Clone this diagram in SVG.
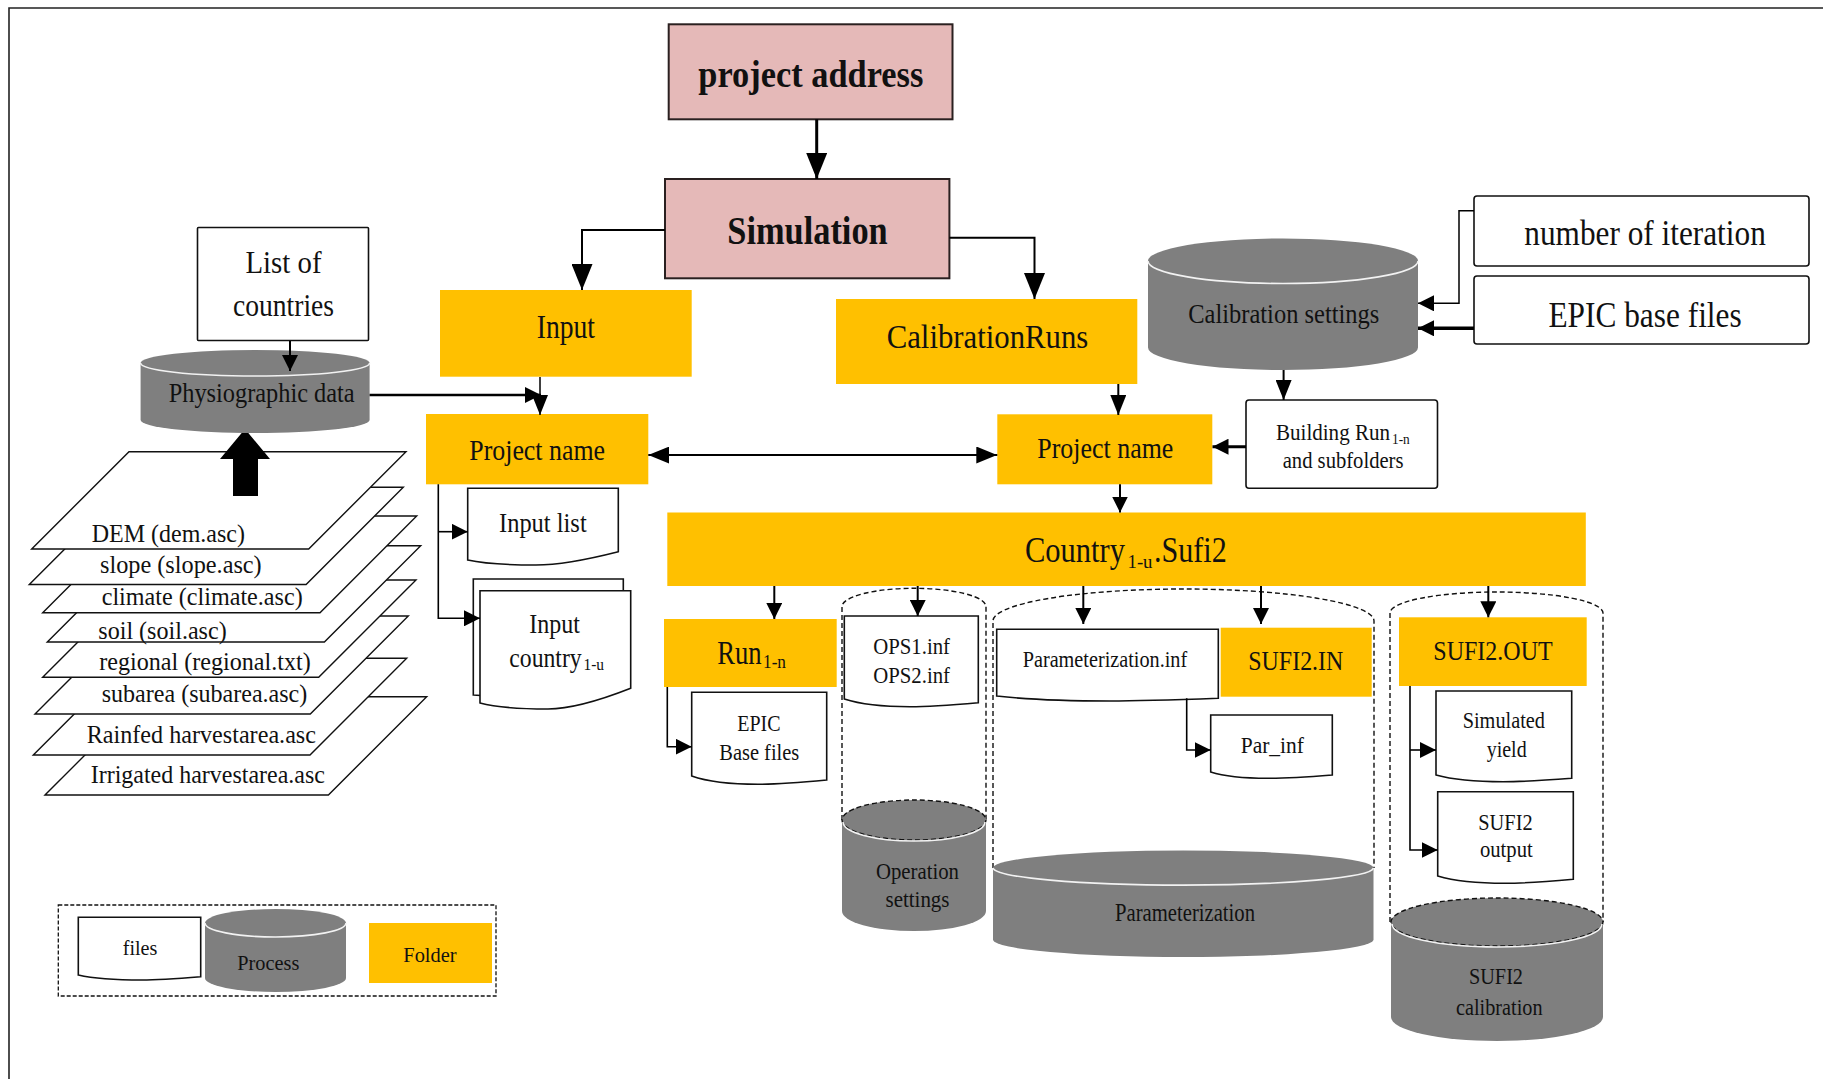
<svg xmlns="http://www.w3.org/2000/svg" width="1823" height="1079" viewBox="0 0 1823 1079">
<defs>
<style>
text{font-family:"Liberation Serif","Times New Roman",serif;fill:#111}
.b{font-weight:bold}
.org{fill:#ffc000}
.pink{fill:#e5b9b8;stroke:#2a2020;stroke-width:2}
.box{fill:#fff;stroke:#111;stroke-width:1.6}
.doc{fill:#fff;stroke:#111;stroke-width:1.6}
.gray{fill:#7f7f7f}
.hl{fill:none;stroke:#f2f2f2;stroke-width:1.6}
.dash{fill:none;stroke:#111;stroke-width:1.4;stroke-dasharray:5 3}
.layer{fill:#fff;stroke:#111;stroke-width:1.4}
</style>
<marker id="ab" markerUnits="userSpaceOnUse" markerWidth="26" markerHeight="21" refX="26" refY="10.5" orient="auto"><path d="M0,0 L26,10.5 L0,21 z" fill="#000"/></marker>
<marker id="am" markerUnits="userSpaceOnUse" markerWidth="20" markerHeight="16" refX="20" refY="8" orient="auto"><path d="M0,0 L20,8 L0,16 z" fill="#000"/></marker>
<marker id="amd" markerUnits="userSpaceOnUse" markerWidth="21" markerHeight="17" refX="21" refY="8.5" orient="auto-start-reverse"><path d="M0,0 L21,8.5 L0,17 z" fill="#000"/></marker>
<marker id="as" markerUnits="userSpaceOnUse" markerWidth="16" markerHeight="16" refX="16" refY="8" orient="auto"><path d="M0,0 L16,8 L0,16 z" fill="#000"/></marker>
</defs>
<rect width="1823" height="1079" fill="#fff"/>
<path d="M9,1079 V8 H1823" fill="none" stroke="#222" stroke-width="1.6"/>

<g id="layers">
<polygon class="layer" points="45,795 143.3,696.7 426.7,696.7 328.4,795"/>
<polygon class="layer" points="33.3,755 130,658.3 406.7,658.3 310,755"/>
<polygon class="layer" points="35,714 133,616 408.3,616 310.3,714"/>
<polygon class="layer" points="42.7,677.3 140,580 416,580 318.7,677.3"/>
<polygon class="layer" points="47.3,642 143.6,545.7 420.7,545.7 324.4,642"/>
<polygon class="layer" points="42.7,612.7 139.4,516 416.7,516 320,612.7"/>
<polygon class="layer" points="29.3,584.5 126.5,487.3 403.3,487.3 306.1,584.5"/>
<polygon class="layer" points="31.7,549 129,451.7 406,451.7 308.7,549"/>
<text x="91.7" y="541.5" font-size="26" textLength="153.3" lengthAdjust="spacingAndGlyphs">DEM (dem.asc)</text>
<text x="100" y="573.3" font-size="26" textLength="161.7" lengthAdjust="spacingAndGlyphs">slope (slope.asc)</text>
<text x="101.7" y="605" font-size="26" textLength="201" lengthAdjust="spacingAndGlyphs">climate (climate.asc)</text>
<text x="98.3" y="639.3" font-size="26" textLength="128.4" lengthAdjust="spacingAndGlyphs">soil (soil.asc)</text>
<text x="99.3" y="670" font-size="26" textLength="211.4" lengthAdjust="spacingAndGlyphs">regional (regional.txt)</text>
<text x="101.7" y="701.7" font-size="26" textLength="205.6" lengthAdjust="spacingAndGlyphs">subarea (subarea.asc)</text>
<text x="86.7" y="743.3" font-size="26" textLength="229.3" lengthAdjust="spacingAndGlyphs">Rainfed harvestarea.asc</text>
<text x="90.7" y="783.3" font-size="26" textLength="234.3" lengthAdjust="spacingAndGlyphs">Irrigated harvestarea.asc</text>
<polygon points="245,429 270,459 258,459 258,496 233,496 233,459 220,459" fill="#000"/>
</g>

<g id="list-countries">
<rect class="box" x="197.5" y="227.5" width="171" height="113" rx="1"/>
<text x="245.5" y="273" font-size="31" textLength="76" lengthAdjust="spacingAndGlyphs">List of</text>
<text x="233" y="316.4" font-size="31" textLength="101" lengthAdjust="spacingAndGlyphs">countries</text>
</g>

<g id="physiographic">
<path class="gray" d="M140.6,363 V420 A114.5,13 0 0 0 369.6,420 V363 Z"/>
<ellipse class="gray" cx="255.1" cy="363" rx="114.5" ry="13"/>
<path class="hl" d="M140.6,363 A114.5,13 0 0 0 369.6,363"/>
<text x="168.7" y="402" font-size="27" textLength="186" lengthAdjust="spacingAndGlyphs">Physiographic data</text>
</g>

<g id="project-address">
<rect class="pink" x="668.7" y="24.3" width="283.8" height="95"/>
<text class="b" x="698.3" y="86.7" font-size="37" textLength="225" lengthAdjust="spacingAndGlyphs">project address</text>
</g>

<g id="simulation">
<rect class="pink" x="665" y="179" width="284.4" height="99.3"/>
<text class="b" x="727.3" y="244.3" font-size="41" textLength="160.4" lengthAdjust="spacingAndGlyphs">Simulation</text>
</g>

<g id="input">
<rect class="org" x="440" y="290" width="251.7" height="86.7"/>
<text x="536.7" y="338.3" font-size="33" textLength="58.3" lengthAdjust="spacingAndGlyphs">Input</text>
</g>

<g id="calibration-runs">
<rect class="org" x="836" y="299" width="301.3" height="85"/>
<text x="886.7" y="348.3" font-size="33" textLength="201.6" lengthAdjust="spacingAndGlyphs">CalibrationRuns</text>
</g>

<g id="calibration-settings">
<path class="gray" d="M1148,261 V347.5 A135,22.5 0 0 0 1418,347.5 V261 Z"/>
<ellipse class="gray" cx="1283" cy="261" rx="135" ry="22.5"/>
<path class="hl" d="M1148,261 A135,22.5 0 0 0 1418,261"/>
<text x="1188.3" y="323.3" font-size="27" textLength="191" lengthAdjust="spacingAndGlyphs">Calibration settings</text>
</g>

<g id="number-iteration">
<rect class="box" x="1474" y="196" width="335" height="70" rx="3"/>
<text x="1524.3" y="245" font-size="35" textLength="241.5" lengthAdjust="spacingAndGlyphs">number of iteration</text>
</g>

<g id="epic-base-files">
<rect class="box" x="1474" y="276" width="335" height="68" rx="3"/>
<text x="1548.4" y="326.7" font-size="36" textLength="193.3" lengthAdjust="spacingAndGlyphs">EPIC base files</text>
</g>

<g id="building-runs">
<rect class="box" x="1246" y="400" width="191.5" height="88.3" rx="3"/>
<text x="1276" y="440" font-size="24"><tspan textLength="114" lengthAdjust="spacingAndGlyphs">Building Run</tspan><tspan x="1392" y="443.5" font-size="14" textLength="17.8" lengthAdjust="spacingAndGlyphs">1-n</tspan></text>
<text x="1282.7" y="468.3" font-size="24" textLength="120.8" lengthAdjust="spacingAndGlyphs">and subfolders</text>
</g>

<g id="project-name-left">
<rect class="org" x="426" y="414" width="222.3" height="70.3"/>
<text x="469.3" y="460" font-size="30" textLength="135.7" lengthAdjust="spacingAndGlyphs">Project name</text>
</g>

<g id="project-name-right">
<rect class="org" x="997.3" y="414.3" width="215" height="70"/>
<text x="1037.3" y="458.3" font-size="30" textLength="136" lengthAdjust="spacingAndGlyphs">Project name</text>
</g>

<g id="input-list">
<path class="doc" d="M467.7,488.3 H618.3 V551.7 Q566,565 536,565 Q490,565 467.7,560 Z"/>
<text x="499" y="531.7" font-size="28" textLength="87.7" lengthAdjust="spacingAndGlyphs">Input list</text>
</g>

<g id="input-country">
<path class="doc" d="M473.3,579 H623.3 V683 Q571,697 541,697 Q495,697 473.3,695 Z"/>
<path class="doc" d="M480,590.7 H630.7 V688.3 Q578,709 548,709 Q502,709 480,703 Z"/>
<text x="529.3" y="633.3" font-size="28" textLength="50.7" lengthAdjust="spacingAndGlyphs">Input</text>
<text x="509.3" y="666.7" font-size="28"><tspan textLength="72.4" lengthAdjust="spacingAndGlyphs">country</tspan><tspan x="583.5" y="670" font-size="16" textLength="20.6" lengthAdjust="spacingAndGlyphs">1-u</tspan></text>
</g>

<g id="country-sufi2">
<rect class="org" x="667.3" y="512.5" width="918.5" height="73.5"/>
<text x="1025" y="561.7" font-size="36"><tspan textLength="100" lengthAdjust="spacingAndGlyphs">Country</tspan><tspan x="1127.5" y="568" font-size="19" textLength="25" lengthAdjust="spacingAndGlyphs">1-u</tspan><tspan x="1154" y="561.7" textLength="72.7" lengthAdjust="spacingAndGlyphs">.Sufi2</tspan></text>
</g>

<g id="run">
<rect class="org" x="664" y="619" width="172.7" height="68"/>
<text x="717.3" y="664" font-size="34"><tspan textLength="44.4" lengthAdjust="spacingAndGlyphs">Run</tspan><tspan x="763" y="668.3" font-size="19" textLength="23" lengthAdjust="spacingAndGlyphs">1-n</tspan></text>
</g>

<g id="epic-base-doc">
<path class="doc" d="M691.7,692.3 H826.7 V780 Q780,784.3 758,784.3 Q715,784.3 691.7,776 Z"/>
<text x="737.3" y="730.7" font-size="24" textLength="43.3" lengthAdjust="spacingAndGlyphs">EPIC</text>
<text x="719.3" y="760" font-size="24" textLength="80" lengthAdjust="spacingAndGlyphs">Base files</text>
</g>

<g id="operation-settings">
<path class="dash" d="M842,820 V606.7 A72,18.4 0 0 1 986,606.7 V820"/>
<path class="gray" d="M842,820 V911 A72,20 0 0 0 986,911 V820 Z"/>
<ellipse cx="914" cy="820" rx="72" ry="20" fill="#7f7f7f" stroke="#111" stroke-width="1.4" stroke-dasharray="5 3"/>
<path class="hl" d="M843,822 A71,19 0 0 0 985,822"/>
<text x="876" y="879" font-size="24" textLength="83" lengthAdjust="spacingAndGlyphs">Operation</text>
<text x="885.5" y="907" font-size="24" textLength="64" lengthAdjust="spacingAndGlyphs">settings</text>
</g>

<g id="ops-inf">
<path class="doc" d="M844.3,616 H978.3 V702.7 Q932,706.7 910,706.7 Q868,706.7 844.3,699 Z"/>
<text x="873.3" y="654" font-size="24" textLength="76.7" lengthAdjust="spacingAndGlyphs">OPS1.inf</text>
<text x="873.3" y="682.7" font-size="24" textLength="76.7" lengthAdjust="spacingAndGlyphs">OPS2.inf</text>
</g>

<g id="parameterization">
<path class="dash" d="M993,868 V621 A190.5,32 0 0 1 1374,621 V868"/>
<path class="gray" d="M993,868 V940 A190.3,17.5 0 0 0 1373.5,940 V868 Z"/>
<ellipse class="gray" cx="1183.2" cy="868" rx="190.3" ry="17.5"/>
<path class="hl" d="M993,868 A190.3,17.5 0 0 0 1373.5,868"/>
<text x="1115" y="921" font-size="25" textLength="140" lengthAdjust="spacingAndGlyphs">Parameterization</text>
</g>

<g id="parameterization-inf">
<path class="doc" d="M996.7,629.3 H1218.3 V698.3 Q1143,701 1110,701 Q1040,701 996.7,696 Z"/>
<text x="1022.7" y="666.7" font-size="24" textLength="164.5" lengthAdjust="spacingAndGlyphs">Parameterization.inf</text>
</g>

<g id="sufi2-in">
<rect class="org" x="1220.7" y="627.7" width="151" height="69"/>
<text x="1248.3" y="670" font-size="28" textLength="95" lengthAdjust="spacingAndGlyphs">SUFI2.IN</text>
</g>

<g id="par-inf">
<path class="doc" d="M1210.7,715 H1332.3 V775 Q1290,778.3 1268,778.3 Q1230,778.3 1210.7,772 Z"/>
<text x="1240.7" y="753.3" font-size="24" textLength="63.3" lengthAdjust="spacingAndGlyphs">Par_inf</text>
</g>

<g id="sufi2-calibration">
<path class="dash" d="M1390,922 V613 A106.5,21 0 0 1 1603,613 V922"/>
<path class="gray" d="M1391,922 V1017 A106,24 0 0 0 1603,1017 V922 Z"/>
<ellipse cx="1497" cy="922" rx="106" ry="24" fill="#7f7f7f" stroke="#111" stroke-width="1.4" stroke-dasharray="5 3"/>
<path class="hl" d="M1392,924 A105,23 0 0 0 1602,924"/>
<text x="1469" y="984" font-size="24" textLength="54" lengthAdjust="spacingAndGlyphs">SUFI2</text>
<text x="1456" y="1015" font-size="24" textLength="86.5" lengthAdjust="spacingAndGlyphs">calibration</text>
</g>

<g id="sufi2-out">
<rect class="org" x="1399" y="617.3" width="187.7" height="68.7"/>
<text x="1433.3" y="660" font-size="28" textLength="119.4" lengthAdjust="spacingAndGlyphs">SUFI2.OUT</text>
</g>

<g id="simulated-yield">
<path class="doc" d="M1436,691 H1571.7 V778.3 Q1525,781.7 1503,781.7 Q1460,781.7 1436,775 Z"/>
<text x="1462.7" y="728.3" font-size="24" textLength="82.3" lengthAdjust="spacingAndGlyphs">Simulated</text>
<text x="1486.7" y="756.7" font-size="24" textLength="40" lengthAdjust="spacingAndGlyphs">yield</text>
</g>

<g id="sufi2-output">
<path class="doc" d="M1437.7,791.7 H1573.3 V879.3 Q1527,883.3 1505,883.3 Q1462,883.3 1437.7,876 Z"/>
<text x="1478.3" y="830" font-size="24" textLength="54.3" lengthAdjust="spacingAndGlyphs">SUFI2</text>
<text x="1480" y="856.7" font-size="24" textLength="52.7" lengthAdjust="spacingAndGlyphs">output</text>
</g>

<g id="legend">
<rect x="58.3" y="905" width="437.7" height="91" fill="none" stroke="#111" stroke-width="1.3" stroke-dasharray="4 2"/>
<path class="doc" d="M78.3,917.3 H200.7 V976.7 Q160,980 142,980 Q100,980 78.3,975 Z"/>
<text x="122.7" y="955" font-size="22" textLength="34.7" lengthAdjust="spacingAndGlyphs">files</text>
<path class="gray" d="M205,923 V978 A70.5,14 0 0 0 346,978 V923 Z"/>
<ellipse class="gray" cx="275.5" cy="923" rx="70.5" ry="14"/>
<path class="hl" d="M205,923 A70.5,14 0 0 0 346,923"/>
<text x="237.3" y="970" font-size="22" textLength="62" lengthAdjust="spacingAndGlyphs">Process</text>
<rect class="org" x="369" y="923" width="123" height="60"/>
<text x="403.3" y="961.7" font-size="22" textLength="53.3" lengthAdjust="spacingAndGlyphs">Folder</text>
</g>

<g id="connectors" fill="none" stroke="#000">
<path d="M816.7,119.3 V179" stroke-width="3" marker-end="url(#ab)"/>
<path d="M665,230 H582 V290" stroke-width="2" marker-end="url(#ab)"/>
<path d="M949.4,237.7 H1034.5 V299" stroke-width="2" marker-end="url(#ab)"/>
<path d="M290,341 V371" stroke-width="2" marker-end="url(#as)"/>
<path d="M369.6,395 H541" stroke-width="2.5" marker-end="url(#as)"/>
<path d="M540,377 V415" stroke-width="1.5" marker-end="url(#am)"/>
<path d="M648.3,455 H997.3" stroke-width="2" marker-start="url(#amd)" marker-end="url(#amd)"/>
<path d="M1118.3,384 V415" stroke-width="2" marker-end="url(#am)"/>
<path d="M1283.6,370 V400" stroke-width="2" marker-end="url(#am)"/>
<path d="M1246,446.7 H1212.5" stroke-width="3" marker-end="url(#as)"/>
<path d="M1474,210.7 H1459 V303.3 H1418" stroke-width="1.5" marker-end="url(#as)"/>
<path d="M1474,328.3 H1418" stroke-width="3.5" marker-end="url(#as)"/>
<path d="M1120,484.3 V512.5" stroke-width="2" marker-end="url(#as)"/>
<path d="M774.3,586 V619" stroke-width="2" marker-end="url(#as)"/>
<path d="M917.7,586 V616" stroke-width="2" marker-end="url(#as)"/>
<path d="M1083.3,586 V624" stroke-width="2" marker-end="url(#as)"/>
<path d="M1261,586 V624" stroke-width="2" marker-end="url(#as)"/>
<path d="M1488.3,586 V617.3" stroke-width="2" marker-end="url(#as)"/>
<path d="M667.3,687 V746.7 H691.7" stroke-width="1.6" marker-end="url(#as)"/>
<path d="M438.3,484.3 V618.3 H480" stroke-width="1.6" marker-end="url(#as)"/>
<path d="M438.3,531.7 H467.7" stroke-width="1.6" marker-end="url(#as)"/>
<path d="M1186.7,698.3 V750 H1210.7" stroke-width="1.6" marker-end="url(#as)"/>
<path d="M1410,686 V850 H1437.7" stroke-width="1.6" marker-end="url(#as)"/>
<path d="M1410,750 H1436" stroke-width="1.6" marker-end="url(#as)"/>
</g>
</svg>
